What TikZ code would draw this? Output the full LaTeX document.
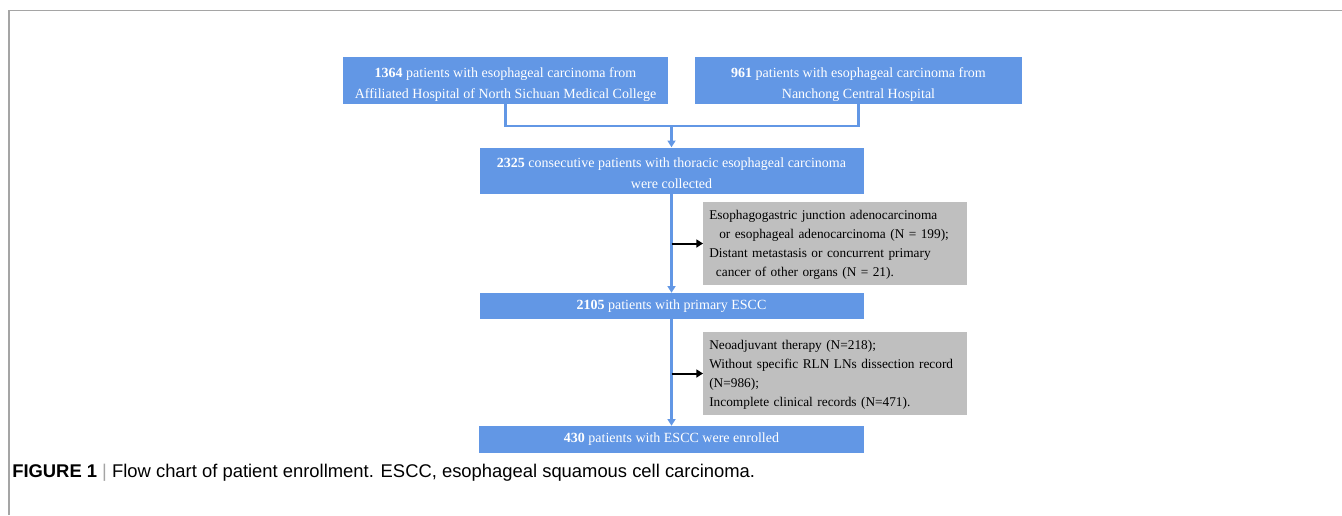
\documentclass[tikz,border=0pt]{standalone}
\usepackage{xcolor}
\usepackage{fontspec}
\setmainfont{Liberation Serif}
\newfontfamily\capfont{Liberation Sans}
\usepackage{tikz}
\usetikzlibrary{arrows.meta}

\definecolor{boxblue}{RGB}{98,151,229}
\definecolor{boxgrey}{RGB}{191,191,191}
\definecolor{framegrey}{RGB}{165,165,165}

\begin{document}
\begin{tikzpicture}[x=0.75pt, y=-0.75pt,
    bluebox/.style={fill=boxblue, text=white, inner sep=0pt, align=center,
        font=\fontsize{10.5}{15.75}\selectfont},
    twoline/.style={text height=29pt, text depth=2.3pt},
    greybox/.style={fill=boxgrey, anchor=west, inner xsep=4.5pt, inner ysep=0pt,
        minimum height=62.25pt, text width=189pt, align=left, text height=9.5pt,
        font=\fontsize{10}{14.25}\selectfont},
    blueline/.style={draw=boxblue, line width=1.6pt},
    bluearrow/.style={blueline, -{Triangle[width=6pt,length=5pt]}},
    blackarrow/.style={line width=1.5pt, -{Triangle[width=6pt,length=5pt]}}]
\useasboundingbox (0,0) rectangle (1342,515);

% Frame
\draw[framegrey, line width=1.1pt] (9,515) -- (9,10.5) -- (1342,10.5);

% Hospitals
\node[bluebox, twoline, minimum width=243.75pt, minimum height=35.25pt] (hosp1) at (505.5,80.5)
    {\textbf{1364} patients with esophageal carcinoma from\\Affiliated Hospital of North Sichuan Medical College};
\node[bluebox, twoline, minimum width=245.25pt, minimum height=35.25pt] (hosp2) at (858.5,80.5)
    {\textbf{961} patients with esophageal carcinoma from\\Nanchong Central Hospital};

% Main column
\node[bluebox, twoline, minimum width=288pt, minimum height=34.5pt] (collected) at (671.5,170.5)
    {\textbf{2325} consecutive patients with thoracic esophageal carcinoma\\were collected};
\node[bluebox, minimum width=288pt, minimum height=19.5pt] (primary) at (671.5,306)
    {\textbf{2105} patients with primary ESCC};
\node[bluebox, minimum width=288.75pt, minimum height=20.25pt] (enrolled) at (671.5,439.5)
    {\textbf{430} patients with ESCC were enrolled};

% Exclusions
\node[greybox] (excl1) at (703,243.5)
    {Esophagogastric junction adenocarcinoma\\
     \hspace*{7.5pt}or esophageal adenocarcinoma (N = 199);\\
     Distant metastasis or concurrent primary\\
     \hspace*{5pt}cancer of other organs (N = 21).};
\node[greybox] (excl2) at (703,373.5)
    {Neoadjuvant therapy (N=218);\\
     Without specific RLN LNs dissection record\\
     (N=986);\\
     Incomplete clinical records (N=471).};

% Connectors
\coordinate (merge) at (671.5,126);
\draw[blueline] (hosp1.south) |- (merge) -| (hosp2.south);
\draw[bluearrow] (merge) -- (collected.north);
\draw[bluearrow] (collected.south) -- (primary.north);
\draw[bluearrow] (primary.south) -- (enrolled.north);
\draw[blackarrow] (collected.south |- excl1.west) -- (excl1.west);
\draw[blackarrow] (primary.south |- excl2.west) -- (excl2.west);

% Caption
\node[anchor=base west, inner sep=0pt, font=\capfont\fontsize{13.8}{16}\selectfont] (caption) at (12,477)
    {\textbf{FIGURE 1} {\color{framegrey}|} Flow chart of patient enrollment. ESCC, esophageal squamous cell carcinoma.};
\end{tikzpicture}
\end{document}
